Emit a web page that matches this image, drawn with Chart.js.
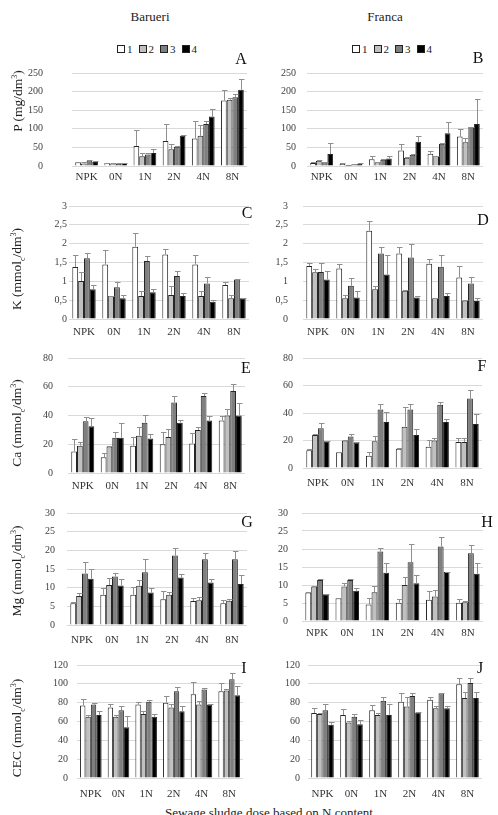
<!DOCTYPE html>
<html>
<head>
<meta charset="utf-8">
<script src="https://cdn.jsdelivr.net/npm/chart.js@4.4.1/dist/chart.umd.min.js"></script>
<style>
  html, body { margin: 0; padding: 0; background: #fff; }
  body {
    width: 498px; height: 815px; position: relative; overflow: hidden;
    font-family: "Liberation Serif", "Times New Roman", serif; color: #222;
  }
  canvas { position: absolute; }
  .txt { position: absolute; white-space: nowrap; transform: translate(-50%, -50%); }
  .ytitle { position: absolute; white-space: nowrap; font-size: 13.5px; transform: translate(-50%, -50%) rotate(-90deg); }
  .letter { font-size: 16px; color: #111; }
  .legend { position: absolute; display: flex; align-items: center; font-size: 11px; transform: translateY(-50%); }
  .legend span.box { display: inline-block; width: 6px; height: 6px; border: 1px solid #222; margin-right: 2px; }
  .legend span.lab { margin-right: 6px; }
</style>
</head>
<body>
<script>
// ===============================
// DATA
// ===============================

const doses = ["NPK", "0N", "1N", "2N", "4N", "8N"];
const seriesNames = ["1", "2", "3", "4"];

// P (mg/dm3) - Barueri / Franca
const pBarueri = [
    [10, 8, 54, 67, 74, 176],
    [7, 5, 26, 45, 81, 178],
    [15, 6, 31, 52, 113, 185],
    [11, 8, 35, 81, 133, 205]
];
const pBarueriSd = [
    [2, 1, 44, 47, 47, 29],
    [3, 2, 9, 14, 29, 6],
    [2, 2, 3, 3, 9, 9],
    [2, 1, 12, 2, 20, 30]
];
const pFranca = [
    [8, 6, 18, 42, 33, 79],
    [14, 3, 10, 22, 27, 64],
    [10, 4, 17, 30, 60, 105],
    [32, 6, 20, 65, 88, 113]
];
const pFrancaSd = [
    [2, 1, 9, 17, 6, 20],
    [2, 1, 2, 2, 1, 10],
    [2, 1, 1, 2, 1, 1],
    [29, 1, 6, 15, 30, 68]
];

// K (mmolc/dm3)
const kBarueri = [
    [1.38, 1.45, 1.92, 1.71, 1.45, 0.90],
    [1.01, 0.61, 0.61, 0.64, 0.61, 0.55],
    [1.61, 0.84, 1.54, 1.14, 0.94, 1.05],
    [0.79, 0.55, 0.71, 0.61, 0.46, 0.55]
];
const kBarueriSd = [
    [0.31, 0.38, 0.35, 0.16, 0.24, 0.09],
    [0.23, 0.01, 0.14, 0.24, 0.14, 0.08],
    [0.15, 0.15, 0.14, 0.13, 0.18, 0.02],
    [0.11, 0.09, 0.08, 0.07, 0.04, 0.02]
];
const kFranca = [
    [1.41, 1.34, 2.34, 1.74, 1.47, 1.10],
    [1.24, 0.55, 0.79, 0.75, 0.55, 0.49],
    [1.25, 0.88, 1.74, 1.63, 1.39, 0.94],
    [1.05, 0.57, 1.18, 0.57, 0.61, 0.48]
];
const kFrancaSd = [
    [0.08, 0.11, 0.25, 0.18, 0.11, 0.30],
    [0.10, 0.10, 0.09, 0.02, 0.02, 0.02],
    [0.25, 0.20, 0.18, 0.36, 0.32, 0.18],
    [0.22, 0.17, 0.53, 0.03, 0.09, 0.09]
];

// Ca (mmolc/dm3)
const caBarueri = [
    [15, 11, 19, 20, 20.5, 36.5],
    [19, 18.5, 26, 25, 30, 40],
    [36, 24.5, 35, 49, 53.5, 57],
    [32.5, 24.5, 24, 35, 36.5, 40]
];
const caBarueriSd = [
    [9, 3, 6, 8.5, 7, 3.5],
    [2.5, 0.5, 6, 5.5, 2, 4.5],
    [3, 4, 5.5, 4.5, 2.5, 5],
    [5.5, 10.5, 3, 2, 3.5, 9]
];
const caFranca = [
    [13, 11.5, 9, 14, 15.5, 19],
    [24, 20, 19.5, 30, 20, 19],
    [29, 23, 42.5, 42.5, 46, 50.5],
    [19.5, 18.5, 33.5, 24, 33.5, 32]
];
const caFrancaSd = [
    [0.5, 0.5, 2.5, 0.5, 5, 2.5],
    [0.5, 0.5, 3.5, 14, 2, 3],
    [3.5, 2, 4, 4, 2, 6],
    [0.5, 0.5, 7.5, 4.5, 2, 7.5]
];

// Mg (mmolc/dm3)
const mgBarueri = [
    [5.8, 8.1, 8.1, 6.9, 6.4, 5.8],
    [7.8, 10.7, 10.5, 8.1, 6.6, 6.5],
    [13.8, 13.0, 14.1, 18.6, 17.6, 17.6],
    [12.4, 10.6, 8.7, 12.7, 11.4, 11.0]
];
const mgBarueriSd = [
    [0.3, 1.9, 2.0, 2.1, 0.9, 0.9],
    [0.9, 1.8, 1.6, 0.7, 1.0, 0.5],
    [3.2, 0.9, 3.5, 2.0, 1.8, 2.1],
    [2.6, 1.8, 1.1, 1.0, 1.0, 2.4]
];
const mgFranca = [
    [7.9, 6.3, 4.6, 5.1, 5.9, 5.1],
    [9.6, 9.6, 8.0, 10.0, 6.8, 5.2],
    [11.4, 11.4, 19.3, 16.3, 20.7, 18.8],
    [7.4, 8.4, 13.4, 10.5, 13.6, 13.1]
];
const mgFrancaSd = [
    [0.2, 0.2, 1.7, 1.0, 2.5, 0.9],
    [0.2, 0.9, 1.7, 2.2, 1.8, 0.3],
    [0.3, 0.3, 1.0, 5.1, 2.5, 2.4],
    [0.1, 0.9, 2.7, 2.3, 0.1, 3.0]
];

// CEC (mmolc/dm3)
const cecBarueri = [
    [77, 75, 78, 80, 89, 92],
    [65, 65, 68, 75, 78, 93],
    [78, 72, 81, 92, 94, 105],
    [67, 54, 65, 71, 78, 88]
];
const cecBarueriSd = [
    [7, 4, 3, 7, 13, 9],
    [2, 2, 3, 4, 4, 1],
    [2, 4, 2, 5, 2, 6],
    [4, 12, 3, 5, 0.5, 10]
];
const cecFranca = [
    [69, 67, 72, 81, 83, 99.5],
    [68, 59, 67, 76, 74, 85],
    [72, 65, 82, 87, 90, 101],
    [56.5, 57, 67, 69.5, 74, 85]
];
const cecFrancaSd = [
    [5, 6, 6, 9.5, 3, 6.5],
    [0.7, 2, 2.5, 10, 2, 6],
    [7, 2.5, 4, 3, 0.3, 5],
    [3.5, 4.5, 11.5, 0.3, 2.5, 6]
];

// y tick labels
const pTicks = [0, 50, 100, 150, 200, 250];
const kTicks = [0, 0.5, 1, 1.5, 2, 2.5, 3];
const caTicks = [0, 20, 40, 60, 80];
const mgTicks = [0, 5, 10, 15, 20, 25, 30];
const cecTicks = [0, 20, 40, 60, 80, 100, 120];

// ===============================
// LAYOUT / STYLE
// ===============================

const SERIF = "'Liberation Serif', 'Times New Roman', serif";
Chart.defaults.font.family = SERIF;

const barColors = ["#ffffff", "#c0c0c0", "#7f7f7f", "#000000"];

// box = plot area [left, top, right, bottom] in page pixels
const panels = [
    { letter: "A", vals: pBarueri, sd: pBarueriSd, ticks: pTicks, box: [72, 73, 247, 166], tickRight: 43, labelY: 177, letterPos: [241, 59] },
    { letter: "B", vals: pFranca, sd: pFrancaSd, ticks: pTicks, box: [307, 73, 483, 166], tickRight: 296, labelY: 177, letterPos: [478, 58] },
    { letter: "C", vals: kBarueri, sd: kBarueriSd, ticks: kTicks, box: [69, 206, 249, 319], tickRight: 67, labelY: 332, letterPos: [247, 213] },
    { letter: "D", vals: kFranca, sd: kFrancaSd, ticks: kTicks, box: [303, 206, 483, 319], tickRight: 288, labelY: 332, letterPos: [483, 220] },
    { letter: "E", vals: caBarueri, sd: caBarueriSd, ticks: caTicks, box: [68, 358, 245, 473], tickRight: 53, labelY: 486, letterPos: [246, 368] },
    { letter: "F", vals: caFranca, sd: caFrancaSd, ticks: caTicks, box: [303, 358, 482, 468], tickRight: 293, labelY: 483, letterPos: [482, 366] },
    { letter: "G", vals: mgBarueri, sd: mgBarueriSd, ticks: mgTicks, box: [67, 513, 247, 625], tickRight: 55, labelY: 640, letterPos: [247, 522] },
    { letter: "H", vals: mgFranca, sd: mgFrancaSd, ticks: mgTicks, box: [302, 513, 483, 621], tickRight: 288, labelY: 633, letterPos: [487, 522] },
    { letter: "I", vals: cecBarueri, sd: cecBarueriSd, ticks: cecTicks, box: [77, 665, 243, 778], tickRight: 68, labelY: 794, letterPos: [244, 668] },
    { letter: "J", vals: cecFranca, sd: cecFrancaSd, ticks: cecTicks, box: [308, 665, 482, 778], tickRight: 300, labelY: 794, letterPos: [480, 668] }
];

const Y_W = 60;      // y axis width inside canvas
const PAD_TOP = 8;
const PAD_RIGHT = 6;
const X_H = 26;      // x axis height inside canvas
const LABEL_LH = 13.2;

// ===============================
// ERROR BARS (only upper side)
// ===============================

const errorBars = {
    id: "errorBars",
    afterDatasetsDraw: function (chart) {
        const ctx = chart.ctx;
        const yScale = chart.scales.y;
        ctx.save();
        ctx.strokeStyle = "#8f8f8f";
        ctx.lineWidth = 1;
        chart.data.datasets.forEach(function (ds, i) {
            const meta = chart.getDatasetMeta(i);
            meta.data.forEach(function (bar, j) {
                const v = ds.data[j];
                const s = ds.sd[j];
                const x = Math.round(bar.x) + 0.5;
                const y0 = yScale.getPixelForValue(v);
                const y1 = Math.round(yScale.getPixelForValue(v + s)) + 0.5;
                ctx.beginPath();
                ctx.moveTo(x, y0);
                ctx.lineTo(x, y1);
                ctx.moveTo(x - 2.5, y1);
                ctx.lineTo(x + 3, y1);
                ctx.stroke();
            });
        });
        ctx.restore();
    }
};

// ===============================
// HELPERS
// ===============================

function addText(html, x, y, cls, style) {
    const d = document.createElement("div");
    d.className = cls || "txt";
    d.innerHTML = html;
    d.style.left = x + "px";
    d.style.top = y + "px";
    if (style) {
        Object.assign(d.style, style);
    }
    document.body.appendChild(d);
    return d;
}

function addLegend(x, y) {
    const d = document.createElement("div");
    d.className = "legend";
    d.style.left = x + "px";
    d.style.top = y + "px";
    seriesNames.forEach(function (name, i) {
        const b = document.createElement("span");
        b.className = "box";
        b.style.background = barColors[i];
        const l = document.createElement("span");
        l.className = "lab";
        l.textContent = name;
        d.appendChild(b);
        d.appendChild(l);
    });
    document.body.appendChild(d);
}

function formatTick(v) {
    return String(v).replace(".", ",");
}

function makePanel(p) {
    const L = p.box[0], T = p.box[1], R = p.box[2], B = p.box[3];
    const w = Y_W + (R - L) + PAD_RIGHT;
    const h = PAD_TOP + (B - T) + X_H;

    const canvas = document.createElement("canvas");
    canvas.width = w;
    canvas.height = h;
    canvas.style.left = (L - Y_W) + "px";
    canvas.style.top = (T - PAD_TOP) + "px";
    canvas.style.width = w + "px";
    canvas.style.height = h + "px";
    document.body.appendChild(canvas);

    const ticks = p.ticks;

    new Chart(canvas, {
        type: "bar",
        data: {
            labels: doses,
            datasets: p.vals.map(function (vals, i) {
                return {
                    label: seriesNames[i],
                    data: vals,
                    sd: p.sd[i],
                    backgroundColor: barColors[i],
                    borderColor: "#262626",
                    borderWidth: 1,
                    categoryPercentage: 0.78,
                    barPercentage: 1.0
                };
            })
        },
        options: {
            responsive: false,
            animation: false,
            devicePixelRatio: 1,
            layout: {
                padding: { top: PAD_TOP, right: PAD_RIGHT, left: 0, bottom: 0 }
            },
            plugins: {
                legend: { display: false },
                tooltip: { enabled: false }
            },
            scales: {
                x: {
                    grid: { display: false, drawTicks: false },
                    border: { display: false },
                    ticks: {
                        padding: p.labelY - B - LABEL_LH / 2,
                        color: "#333",
                        font: { family: SERIF, size: 11 },
                        maxRotation: 0,
                        autoSkip: false
                    },
                    afterFit: function (s) {
                        s.height = X_H;
                        s.paddingLeft = 0;
                        s.paddingRight = 0;
                    }
                },
                y: {
                    min: ticks[0],
                    max: ticks[ticks.length - 1],
                    grid: { color: "#d9d9d9", drawTicks: false },
                    border: { display: false },
                    ticks: {
                        padding: L - p.tickRight,
                        color: "#404040",
                        font: { family: SERIF, size: 10 },
                        callback: formatTick
                    },
                    afterBuildTicks: function (s) {
                        s.ticks = ticks.map(function (v) { return { value: v }; });
                    },
                    afterFit: function (s) {
                        s.width = Y_W;
                        s.paddingTop = 0;
                        s.paddingBottom = 0;
                    }
                }
            }
        },
        plugins: [errorBars]
    });

    addText(p.letter, p.letterPos[0], p.letterPos[1], "txt letter");
}

// ===============================
// FIGURE
// ===============================

addText("Barueri", 150, 17, "txt", { fontSize: "13px" });
addText("Franca", 385, 17, "txt", { fontSize: "13px" });
addLegend(117, 49);
addLegend(352, 49);

panels.forEach(makePanel);

addText("P (mg/dm<sup style='font-size:8px'>3</sup>)", 18, 101, "ytitle");
addText("K (mmol<sub style='font-size:8px'>c</sub>/dm<sup style='font-size:8px'>3</sup>)", 18, 269, "ytitle");
addText("Ca (mmol<sub style='font-size:8px'>c</sub>/dm<sup style='font-size:8px'>3</sup>)", 18, 423, "ytitle");
addText("Mg (mmol<sub style='font-size:8px'>c</sub>/dm<sup style='font-size:8px'>3</sup>)", 18, 571, "ytitle");
addText("CEC (mmol<sub style='font-size:8px'>c</sub>/dm<sup style='font-size:8px'>3</sup>)", 18, 728, "ytitle");

addText("Sewage sludge dose based on N content", 269, 813, "txt", { fontSize: "13px" });
</script>
</body>
</html>
